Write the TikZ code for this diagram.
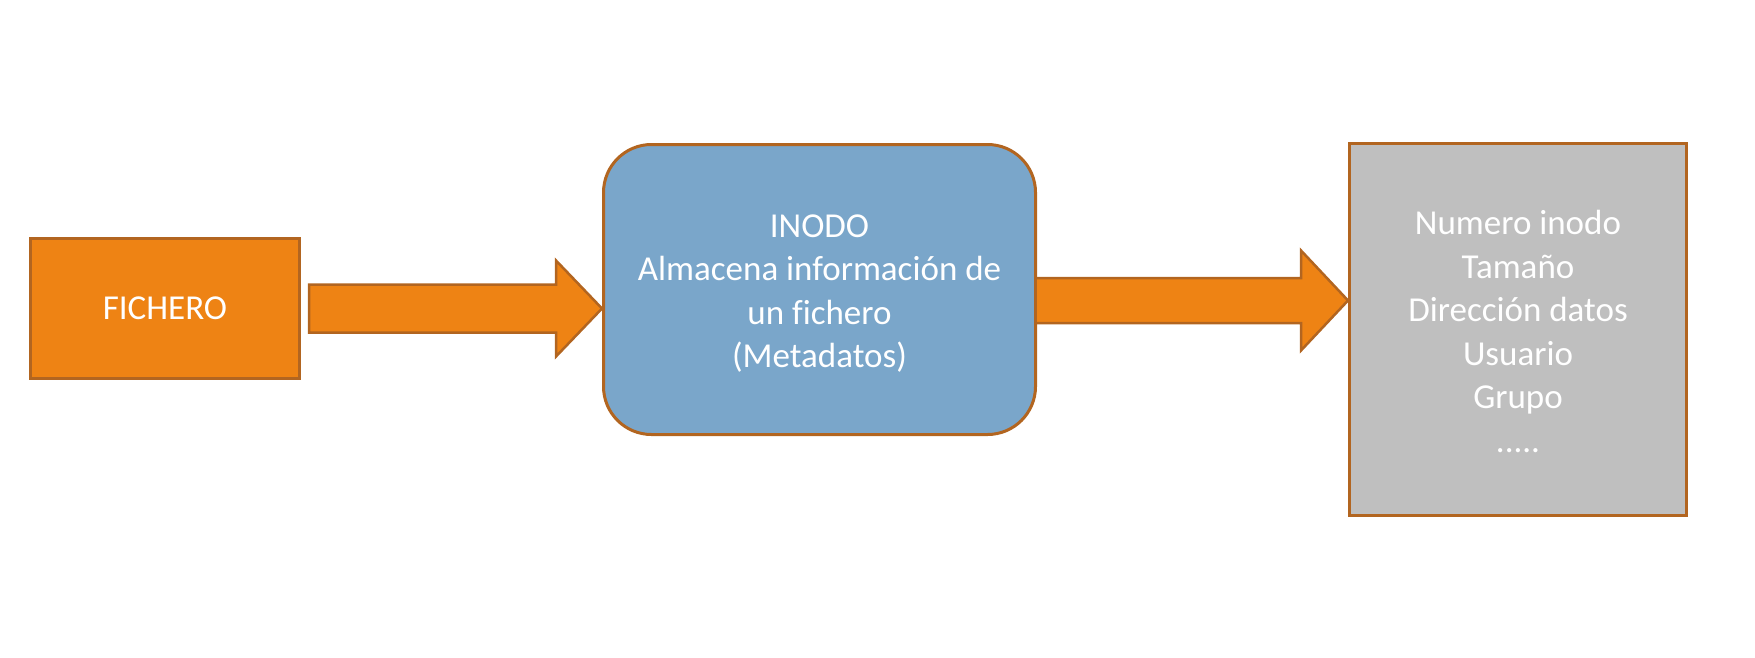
\documentclass[tikz,border=0pt]{standalone}
\usepackage{fontspec}
\setmainfont{Carlito}[Ligatures=NoCommon]
\usetikzlibrary{calc}
\definecolor{orfill}{RGB}{238,131,20}
\definecolor{orline}{RGB}{178,101,32}
\definecolor{blfill}{RGB}{122,166,202}
\definecolor{grfill}{RGB}{191,191,191}
\tikzset{
  boxbase/.style={draw=orline, line width=3pt, inner sep=0pt, anchor=north west},
  boxtext/.style={text=white, align=center, font=\fontsize{35}{43.5}\selectfont, inner sep=0pt},
  blockarrow/.style={fill=orfill, draw=orline, line width=2.5pt, line join=miter}
}
\begin{document}
\begin{tikzpicture}[x=1pt,y=-1pt]
\useasboundingbox (0,0) rectangle (1755,657);
\node[boxbase, fill=orfill, minimum width=269pt, minimum height=140pt,
  label={[boxtext]center:FICHERO}] (fich) at (29,237) {};
\node[boxbase, fill=blfill, rounded corners=48pt, minimum width=432pt, minimum height=290pt,
  label={[boxtext, yshift=-4pt]center:{INODO\\Almacena información de\\un fichero\\(Metadatos)}}] (inodo) at (602,143) {};
\node[boxbase, fill=grfill, minimum width=337pt, minimum height=372pt,
  label={[boxtext, yshift=-2pt]center:{Numero inodo\\Tamaño\\Dirección datos\\Usuario\\Grupo\\.....}}] (meta) at (1348,142) {};
% arrow 1
\coordinate (a1s) at ($(fich.east)+(8,0)$);
\coordinate (a1t) at (inodo.west |- a1s);
\draw[blockarrow] ($(a1s)+(0,-24)$) -- ($(a1t)+(-46,-24)$) -- ($(a1t)+(-46,-48)$) -- (a1t)
  -- ($(a1t)+(-46,48)$) -- ($(a1t)+(-46,24)$) -- ($(a1s)+(0,24)$) -- cycle;
% arrow 2
\coordinate (a2s) at (inodo.east |- 0,300.5);
\coordinate (a2t) at (meta.west |- a2s);
\draw[blockarrow] ($(a2s)+(0,-22.5)$) -- ($(a2t)+(-47,-22.5)$) -- ($(a2t)+(-47,-50)$) -- (a2t)
  -- ($(a2t)+(-47,50)$) -- ($(a2t)+(-47,22.5)$) -- ($(a2s)+(0,22.5)$);
\end{tikzpicture}
\end{document}
